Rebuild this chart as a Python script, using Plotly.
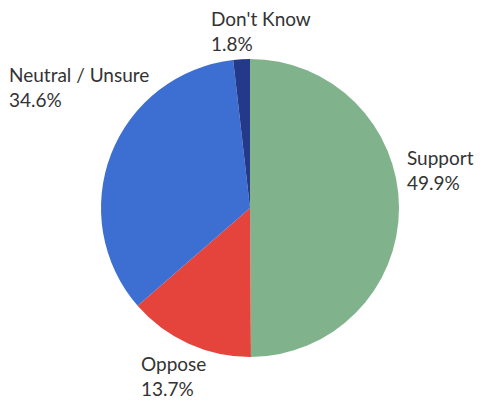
import plotly.graph_objects as go

labels = ["Support", "Oppose", "Neutral / Unsure", "Don't Know"]
values = [49.9, 13.7, 34.6, 1.8]
colors = ["#80b38c", "#e5443c", "#3d6fd3", "#24398a"]

W, H = 484, 402
cx, cy, r = 250, 208, 149

fig = go.Figure(go.Pie(
    labels=labels, values=values, sort=False, direction="clockwise", rotation=0,
    marker=dict(colors=colors, line=dict(width=0)),
    textinfo="none", hoverinfo="label+percent", showlegend=False,
    domain=dict(x=[(cx - r) / W, (cx + r) / W], y=[1 - (cy + r) / H, 1 - (cy - r) / H]),
))

label_pos = {
    "Support": (405, 170),
    "Oppose": (139, 376),
    "Neutral / Unsure": (7, 87),
    "Don't Know": (209, 31),
}
for lab, val in zip(labels, values):
    x, y = label_pos[lab]
    fig.add_annotation(
        x=x / W, y=1 - y / H, xref="paper", yref="paper", xanchor="left", yanchor="middle",
        text=f"{lab}<br>{val:.1f}%", showarrow=False, align="left",
        font=dict(family="Lato, Open Sans, sans-serif", size=19, color="#333333"),
    )

fig.update_layout(
    width=W, height=H, margin=dict(l=0, r=0, t=0, b=0),
    paper_bgcolor="white", plot_bgcolor="white",
)
fig.write_html("out.html")
